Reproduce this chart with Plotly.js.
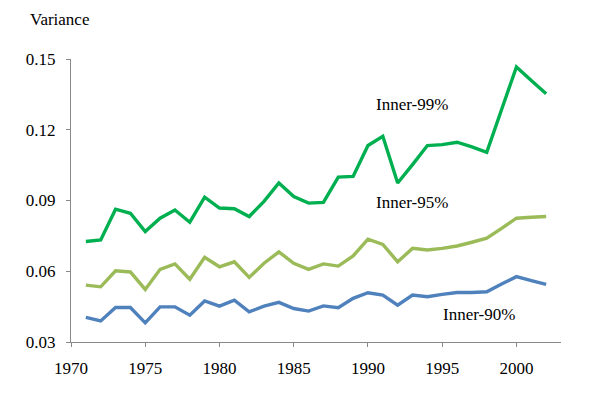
<!DOCTYPE html>
<html>
<head>
<meta charset="utf-8">
<script src="https://cdn.plot.ly/plotly-3.0.1.min.js"></script>
<style>html,body{margin:0;padding:0;background:#fff;}#chart{width:600px;height:393px;}</style>
</head>
<body>
<div id="chart"></div>
<script>
const years = [1971,1972,1973,1974,1975,1976,1977,1978,1979,1980,1981,1982,1983,1984,1985,1986,1987,1988,1989,1990,1991,1992,1993,1994,1995,1996,1997,1998,1999,2000,2001,2002];
const inner99 = [0.0726,0.0733,0.0863,0.0846,0.0768,0.0825,0.0860,0.0808,0.0914,0.0868,0.0865,0.0832,0.0896,0.0974,0.0917,0.0889,0.0892,0.0999,0.1002,0.1133,0.1172,0.0974,0.1052,0.1133,0.1137,0.1147,0.1127,0.1104,0.1286,0.1466,0.1409,0.1353];
const inner95 = [0.0541,0.0534,0.0602,0.0597,0.0523,0.0608,0.0631,0.0566,0.0659,0.0619,0.0640,0.0574,0.0634,0.0682,0.0634,0.0608,0.0631,0.0622,0.0665,0.0736,0.0714,0.0640,0.0697,0.0690,0.0697,0.0707,0.0723,0.0740,0.0782,0.0825,0.0829,0.0832];
const inner90 = [0.0404,0.0389,0.0446,0.0446,0.0381,0.0449,0.0449,0.0414,0.0474,0.0452,0.0477,0.0428,0.0452,0.0468,0.0442,0.0431,0.0453,0.0445,0.0485,0.0509,0.0499,0.0456,0.0499,0.0492,0.0502,0.0510,0.0510,0.0513,0.0546,0.0577,0.0560,0.0544];
const seriesNames = ["Inner-99%","Inner-95%","Inner-90%"];
const yTicks = [0.03,0.06,0.09,0.12,0.15];
const yTickText = ["0.03","0.06","0.09","0.12","0.15"];
const xTicks = [1970,1975,1980,1985,1990,1995,2000];

const font = {family: "Liberation Serif", size: 17, color: "#000"};
const colors = ["#00B050","#9BBB59","#4F81BD"];
const data = [inner99, inner95, inner90].map((v,i)=>({
  x: years, y: v, type: "scatter", mode: "lines", name: seriesNames[i],
  line: {color: colors[i], width: 3.4}
}));

const layout = {
  width: 600, height: 393,
  margin: {l: 71, r: 39, t: 59, b: 51},
  paper_bgcolor: "#fff", plot_bgcolor: "#fff",
  showlegend: false,
  font: font,
  xaxis: {
    range: [1970, 2003], tickvals: xTicks, ticktext: xTicks.map(String),
    showgrid: false, zeroline: false, showline: true, linecolor: "#888", linewidth: 1,
    ticks: "outside", ticklen: 4, tickcolor: "#888", tickfont: font, ticklabelstandoff: 7
  },
  yaxis: {
    range: [0.03, 0.15], tickvals: yTicks, ticktext: yTickText,
    showgrid: false, zeroline: false, showline: true, linecolor: "#888", linewidth: 1,
    ticks: "outside", ticklen: 4, tickcolor: "#888", tickfont: font, ticklabelstandoff: 7
  },
  annotations: [
    {text: "Variance", xref: "paper", yref: "paper", x: -0.088, y: 1.138, xanchor: "left", yanchor: "middle", showarrow: false, font: font},
    {text: seriesNames[0], xref: "x", yref: "y", x: 1992.95, y: 0.1305, xanchor: "center", yanchor: "middle", showarrow: false, font: font},
    {text: seriesNames[1], xref: "x", yref: "y", x: 1992.95, y: 0.0893, xanchor: "center", yanchor: "middle", showarrow: false, font: font},
    {text: seriesNames[2], xref: "x", yref: "y", x: 1997.5, y: 0.0417, xanchor: "center", yanchor: "middle", showarrow: false, font: font}
  ]
};
Plotly.newPlot("chart", data, layout, {staticPlot: true, displayModeBar: false});
</script>
</body>
</html>
